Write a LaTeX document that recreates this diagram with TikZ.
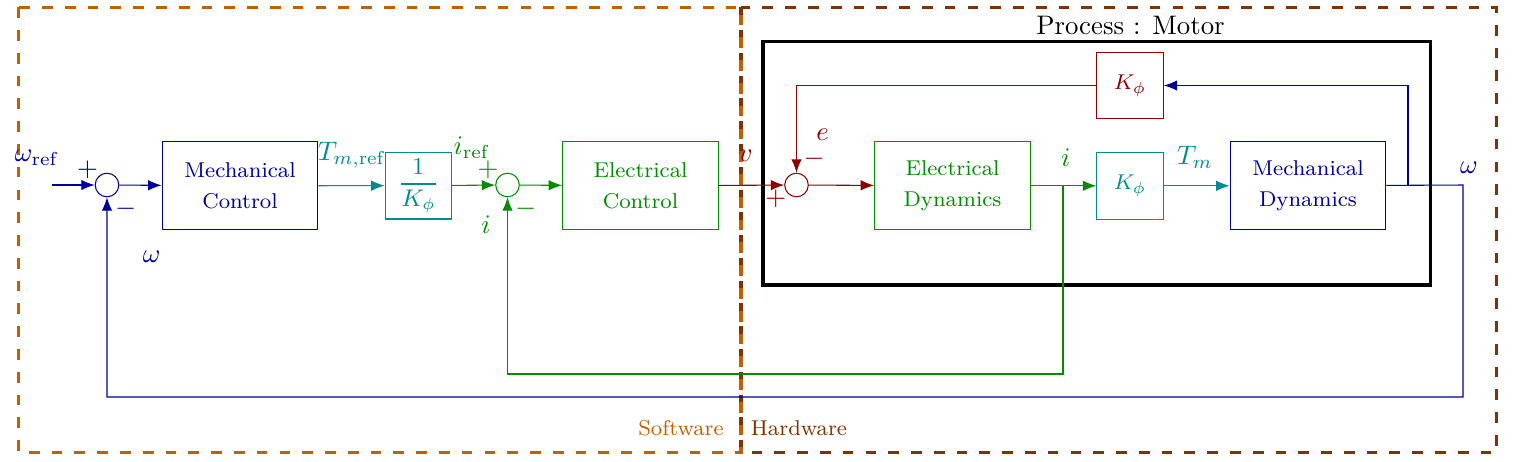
\documentclass[tikz,border=0pt]{standalone}
\usetikzlibrary{arrows.meta}
\definecolor{bl}{RGB}{0,0,153}
\definecolor{tl}{RGB}{0,140,140}
\definecolor{gr}{RGB}{0,140,0}
\definecolor{rd}{RGB}{140,0,0}
\definecolor{sw}{RGB}{192,96,0}
\definecolor{hw}{RGB}{128,51,0}
\tikzset{
  blockbox/.style={draw, inner sep=0pt, minimum width=58.1pt, minimum height=32.9pt, align=center, font=\footnotesize},
  gainbox/.style={draw, inner sep=0pt, minimum width=24.8pt, minimum height=24.9pt, align=center, font=\footnotesize},
  sumnode/.style={draw, circle, inner sep=0pt, minimum size=8.8pt},
  conn/.style={-{Latex[length=5pt,width=3.9pt]}, thin},
  frame/.style={line width=1.2pt, dash pattern=on 4pt off 4.5pt},
  lbl/.style={inner sep=0pt}
}
\begin{document}
\begin{tikzpicture}[x=0.37313pt, y=-0.37313pt]
\useasboundingbox (0,0) rectangle (1515,461);
% frames
\draw[frame, hw] (741,7.3) rectangle (1496.7,452.3);
\draw[frame, sw] (18.3,7.3) rectangle (741,452.3);
\node[lbl, text=sw, font=\footnotesize] (swl) at (681,428) {Software};
\node[lbl, text=hw, font=\footnotesize] (hwl) at (799,428) {Hardware};
% process box
\draw[line width=1.2pt] (763,41.7) rectangle (1430.7,285);
\node[lbl] (proc) at (1130.5,25) {Process : Motor};
% blocks
\node[sumnode, bl] (s1) at (107,185) {};
\node[blockbox, bl] (mc) at (240,185.8) {Mechanical\\[2.1pt]Control};
\node[gainbox, tl, font=\small] (ik) at (418.4,185.6) {$\displaystyle\frac{1}{K_\phi}$};
\node[sumnode, gr] (s2) at (507.5,185) {};
\node[blockbox, gr] (ec) at (640.5,185.8) {Electrical\\[2.1pt]Control};
\node[sumnode, rd] (s3) at (796.5,185) {};
\node[blockbox, gr] (ed) at (952.5,185.8) {Electrical\\[2.1pt]Dynamics};
\node[gainbox, tl] (kt) at (1130,185.8) {$K_\phi$};
\node[blockbox, bl] (md) at (1308,185.8) {Mechanical\\[2.1pt]Dynamics};
\node[gainbox, rd] (kr) at (1130,85.5) {$K_\phi$};
% coordinates
\coordinate (in) at (52,185);
\coordinate (o1) at (1463,185);
\coordinate (o2) at (1463,397);
\coordinate (br) at (1408,185);
\coordinate (g1) at (1063,185);
\coordinate (g2) at (1063,374);
% connectors
\draw[conn, bl] (in) -- (s1);
\draw[conn, bl] (s1) -- (mc);
\draw[conn, tl] (mc) -- (ik);
\draw[conn, gr] (ik) -- (s2);
\draw[conn, gr] (s2) -- (ec);
\draw[conn, rd] (ec) -- (s3);
\draw[conn, rd] (s3) -- (ed);
\draw[conn, gr] (ed) -- (kt);
\draw[conn, tl] (kt) -- (md);
\draw[conn, bl] (md) -- (o1) -- (o2) -| (s1.south);
\draw[conn, bl] (br) |- (kr.east);
\draw[bl, line width=0.8pt] (br) -- (br |- kr.east);
\draw[conn, rd] (kr.west) -| (s3.north);
\draw[conn, gr] (g1) -- (g2) -| (s2.south);
% labels
\node[lbl, text=bl] (lwref) at (37,158) {$\omega_{\mathrm{ref}}$};
\node[lbl, text=bl] (p1) at (87.5,170) {$+$};
\node[lbl, text=bl] (m1) at (125.7,208.5) {$-$};
\node[lbl, text=bl] (lw1) at (151.8,256.7) {$\omega$};
\node[lbl, text=tl] (ltmr) at (352,155) {$T_{m,\mathrm{ref}}$};
\node[lbl, text=gr] (liref) at (472,148) {$i_{\mathrm{ref}}$};
\node[lbl, text=gr] (p2) at (488,170) {$+$};
\node[lbl, text=gr] (m2) at (525.7,209) {$-$};
\node[lbl, text=gr] (li1) at (486,225) {$i$};
\node[lbl, text=rd] (lv) at (745.7,156) {$v$};
\node[lbl, text=rd] (le) at (822.7,135) {$e$};
\node[lbl, text=rd] (m3) at (814,159) {$-$};
\node[lbl, text=rd] (p3) at (775.7,199) {$+$};
\node[lbl, text=gr] (li2) at (1065.7,158) {$i$};
\node[lbl, text=tl] (ltm) at (1195,157) {$T_m$};
\node[lbl, text=bl] (lw2) at (1469,168) {$\omega$};
\end{tikzpicture}
\end{document}
